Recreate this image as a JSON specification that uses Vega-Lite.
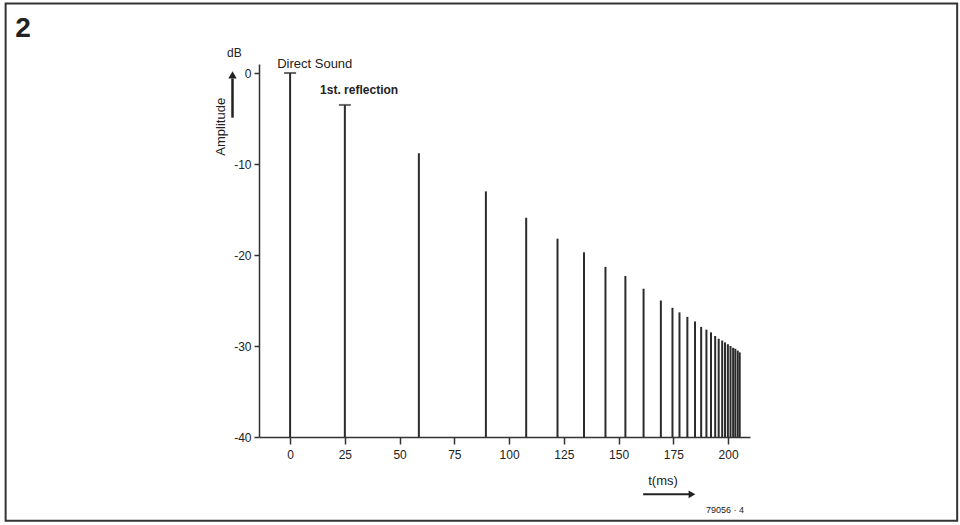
{
  "$schema": "https://vega.github.io/schema/vega-lite/v6.json",
  "width": 491,
  "height": 373,
  "autosize": "none",
  "padding": {"left": 259, "top": 64, "right": 210, "bottom": 88},
  "background": "white",
  "config": {"view": {"stroke": null}, "font": "Liberation Sans", "text": {"font": "Liberation Sans", "color": "#222"}},
  "datasets": {
    "spikes": [
      {"t": 0, "dB": 0}, {"t": 25, "dB": -3.5}, {"t": 58.8, "dB": -8.8}, {"t": 89.4, "dB": -13.0},
      {"t": 107.8, "dB": -15.9}, {"t": 122.1, "dB": -18.2}, {"t": 134.2, "dB": -19.7}, {"t": 144.0, "dB": -21.3},
      {"t": 153.1, "dB": -22.3}, {"t": 161.4, "dB": -23.7}, {"t": 169.3, "dB": -25.0}, {"t": 174.6, "dB": -25.8},
      {"t": 177.8, "dB": -26.3}, {"t": 181.4, "dB": -26.8}, {"t": 184.9, "dB": -27.3}, {"t": 187.7, "dB": -27.9},
      {"t": 190.1, "dB": -28.2}, {"t": 192.2, "dB": -28.5}, {"t": 194.1, "dB": -28.9}, {"t": 195.7, "dB": -29.2},
      {"t": 197.3, "dB": -29.4}, {"t": 198.6, "dB": -29.6}, {"t": 199.9, "dB": -29.8}, {"t": 201.1, "dB": -30.0},
      {"t": 202.3, "dB": -30.2}, {"t": 203.3, "dB": -30.3}, {"t": 204.4, "dB": -30.5}, {"t": 205.3, "dB": -30.7}
    ]
  },
  "layer": [
    {
      "data": {"name": "spikes"},
      "mark": {"type": "rule", "color": "#2b2b2b", "strokeWidth": 2},
      "encoding": {
        "x": {"field": "t", "type": "quantitative",
              "scale": {"domain": [-14.2, 210], "nice": false, "zero": false},
              "axis": {"values": [0, 25, 50, 75, 100, 125, 150, 175, 200], "title": null, "grid": false,
                       "domainColor": "#333", "domainWidth": 1.5, "tickColor": "#333", "tickWidth": 1.5, "tickSize": 7,
                       "labelFontSize": 12, "labelColor": "#222", "labelPadding": 5, "labelFont": "Liberation Sans"}},
        "y": {"field": "dB", "type": "quantitative",
              "scale": {"domain": [-40, 1], "nice": false, "zero": false},
              "axis": {"values": [0, -10, -20, -30, -40], "title": null, "grid": false, "labelExpr": "'' + datum.value",
                       "domainColor": "#333", "domainWidth": 1.5, "tickColor": "#333", "tickWidth": 1.5, "tickSize": 5,
                       "labelFontSize": 12, "labelColor": "#222", "labelPadding": 3, "labelFont": "Liberation Sans"}},
        "y2": {"datum": -40}
      }
    },
    {
      "data": {"name": "spikes"},
      "transform": [{"filter": "datum.t <= 25"}],
      "mark": {"type": "tick", "orient": "horizontal", "color": "#2b2b2b", "thickness": 2, "size": 12},
      "encoding": {
        "x": {"field": "t", "type": "quantitative"},
        "y": {"field": "dB", "type": "quantitative"}
      }
    },
    {
      "data": {"values": [{}]},
      "layer": [
        {"mark": {"type": "text", "align": "left", "baseline": "middle", "fontSize": 13},
         "encoding": {"x": {"datum": -5.9}, "y": {"datum": 1.0}, "text": {"value": "Direct Sound"}}},
        {"mark": {"type": "text", "align": "left", "baseline": "middle", "fontSize": 12, "fontWeight": "bold"},
         "encoding": {"x": {"datum": 13.7}, "y": {"datum": -1.87}, "text": {"value": "1st. reflection"}}},
        {"mark": {"type": "text", "align": "center", "baseline": "middle", "fontSize": 13},
         "encoding": {"x": {"datum": -31.5}, "y": {"datum": -5.9}, "text": {"value": "Amplitude"}, "angle": {"value": 270}}},
        {"mark": {"type": "text", "align": "left", "baseline": "middle", "fontSize": 12},
         "encoding": {"x": {"datum": -28.8}, "y": {"datum": 2.2}, "text": {"value": "dB"}}},
        {"mark": {"type": "rule", "color": "#222", "strokeWidth": 2.5},
         "encoding": {"x": {"datum": -26.3}, "y": {"datum": -4.9}, "y2": {"datum": -0.6}}},
        {"mark": {"type": "point", "shape": "triangle-up", "filled": true, "color": "#222", "size": 70, "opacity": 1},
         "encoding": {"x": {"datum": -26.3}, "y": {"datum": -0.2}}},
        {"mark": {"type": "text", "align": "center", "baseline": "middle", "fontSize": 13},
         "encoding": {"x": {"datum": 170.3}, "y": {"datum": -44.8}, "text": {"value": "t(ms)"}}},
        {"mark": {"type": "rule", "color": "#222", "strokeWidth": 2},
         "encoding": {"x": {"datum": 161.2}, "x2": {"datum": 182.5}, "y": {"datum": -46.3}}},
        {"mark": {"type": "point", "shape": "triangle-right", "filled": true, "color": "#222", "size": 60, "opacity": 1},
         "encoding": {"x": {"datum": 183.5}, "y": {"datum": -46.3}}},
        {"mark": {"type": "text", "align": "center", "baseline": "middle", "fontSize": 9},
         "encoding": {"x": {"datum": 198.6}, "y": {"datum": -48.0}, "text": {"value": "79056 · 4"}}},
        {"mark": {"type": "text", "align": "center", "baseline": "middle", "fontSize": 28, "fontWeight": "bold"},
         "encoding": {"x": {"datum": -121.9}, "y": {"datum": 4.84}, "text": {"value": "2"}}},
        {"mark": {"type": "rect", "fill": null, "stroke": "#333", "strokeWidth": 2},
         "encoding": {"x": {"datum": -129.9}, "x2": {"datum": 304.6}, "y": {"datum": 7.66}, "y2": {"datum": -49.2}}}
      ]
    }
  ]
}
